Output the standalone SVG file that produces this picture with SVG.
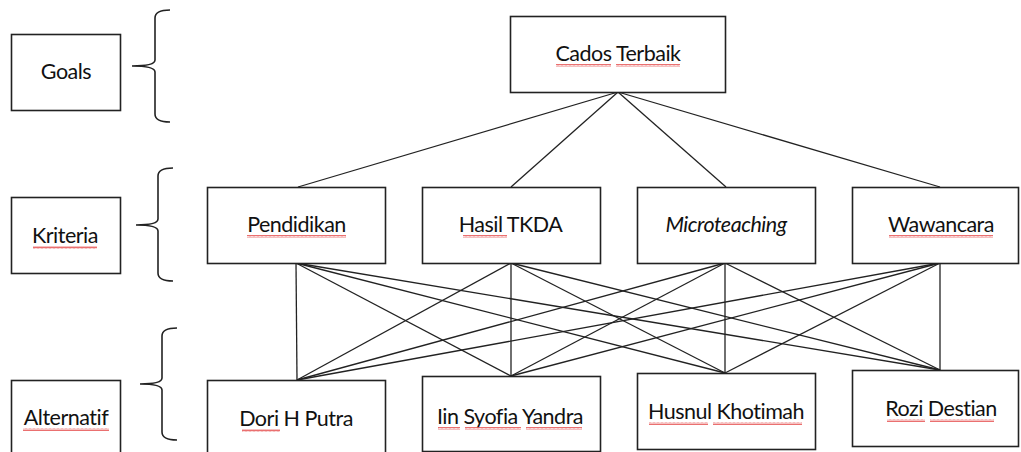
<svg xmlns="http://www.w3.org/2000/svg" width="1021" height="452" viewBox="0 0 1021 452">
<style>
.box{fill:#fff;stroke:#222;stroke-width:1.6}
.lbl{font-family:Lato,"Liberation Sans",sans-serif;font-size:21.5px;letter-spacing:-0.5px;fill:#111;text-anchor:middle;font-variant-ligatures:none}
.it{font-style:italic}
.con line{stroke:#222;stroke-width:1.3}
.brace{fill:none;stroke:#222;stroke-width:1.6}
.sq{fill:url(#wavy)}
</style>
<defs>
<pattern id="wavy" width="4" height="3" patternUnits="userSpaceOnUse">
<path d="M0,2.5 L1,0.5 L2,2.5 L3,0.5 L4,2.5" fill="none" stroke="#e86060" stroke-width="0.9"/>
</pattern>
</defs>
<rect width="1021" height="452" fill="#fff"/>
<g id="connectors" class="con">
<line x1="618" y1="92" x2="298" y2="187"/>
<line x1="618" y1="92" x2="511" y2="187"/>
<line x1="618" y1="92" x2="726" y2="187"/>
<line x1="618" y1="92" x2="940" y2="187"/>
<line x1="296" y1="263" x2="297" y2="380"/>
<line x1="296" y1="263" x2="511" y2="376"/>
<line x1="296" y1="263" x2="725" y2="373"/>
<line x1="296" y1="263" x2="940" y2="370"/>
<line x1="511" y1="263" x2="297" y2="380"/>
<line x1="511" y1="263" x2="511" y2="376"/>
<line x1="511" y1="263" x2="725" y2="373"/>
<line x1="511" y1="263" x2="940" y2="370"/>
<line x1="725" y1="263" x2="297" y2="380"/>
<line x1="725" y1="263" x2="511" y2="376"/>
<line x1="725" y1="263" x2="725" y2="373"/>
<line x1="725" y1="263" x2="940" y2="370"/>
<line x1="940" y1="263" x2="297" y2="380"/>
<line x1="940" y1="263" x2="511" y2="376"/>
<line x1="940" y1="263" x2="725" y2="373"/>
<line x1="940" y1="263" x2="940" y2="370"/>
</g>
<g id="braces">
<path class="brace" d="M170,10 Q155,10 155,18 L155,60 Q155,66 132,66 Q155,66 155,72 L155,114 Q155,122 170,122"/>
<path class="brace" d="M173,168 Q158,168 158,176 L158,219 Q158,225 136,225 Q158,225 158,231 L158,273 Q158,281 173,281"/>
<path class="brace" d="M177,328 Q162,328 162,336 L162,378 Q162,384 140,384 Q162,384 162,390 L162,432 Q162,440 177,440"/>
</g>
<g id="goals">
<rect class="box" x="11.5" y="34.5" width="109" height="76"/>
<text class="lbl" x="66" y="79">Goals</text>
</g>
<g id="kriteria">
<rect class="box" x="11.5" y="197.5" width="109" height="76"/>
<text class="lbl" x="65" y="243">Kriteria</text>
<rect class="sq" x="33" y="246" width="64" height="3"/>
</g>
<g id="alternatif">
<rect class="box" x="11.5" y="380.5" width="109" height="76"/>
<text class="lbl" x="66" y="425">Alternatif</text>
<rect class="sq" x="23" y="428" width="86" height="3"/>
</g>
<g id="cados">
<rect class="box" x="510.5" y="16.5" width="215" height="76"/>
<text class="lbl" x="618" y="61">Cados Terbaik</text>
<rect class="sq" x="556" y="64" width="55" height="3"/>
<rect class="sq" x="616" y="64" width="64" height="3"/>
</g>
<g id="pendidikan">
<rect class="box" x="207.5" y="187.5" width="178" height="76"/>
<text class="lbl" x="296.5" y="232">Pendidikan</text>
<rect class="sq" x="247" y="235" width="99" height="3"/>
</g>
<g id="tkda">
<rect class="box" x="422.5" y="187.5" width="178" height="76"/>
<text class="lbl" x="510.5" y="232">Hasil TKDA</text>
<rect class="sq" x="463" y="235" width="44" height="3"/>
</g>
<g id="microteaching">
<rect class="box" x="637.5" y="187.5" width="178" height="76"/>
<text class="lbl it" x="726" y="232">Microteaching</text>
</g>
<g id="wawancara">
<rect class="box" x="852.5" y="187.5" width="166" height="76"/>
<text class="lbl" x="941" y="232">Wawancara</text>
<rect class="sq" x="889" y="235" width="104" height="3"/>
</g>
<g id="dori">
<rect class="box" x="207.5" y="380.5" width="178" height="76"/>
<text class="lbl" x="296" y="426">Dori H Putra</text>
<rect class="sq" x="242" y="429" width="38" height="3"/>
</g>
<g id="iin">
<rect class="box" x="422.5" y="376.5" width="178" height="75"/>
<text class="lbl" x="510" y="424">Iin Syofia Yandra</text>
<rect class="sq" x="438" y="427" width="22" height="3"/>
<rect class="sq" x="465" y="427" width="56" height="3"/>
<rect class="sq" x="526" y="427" width="56" height="3"/>
</g>
<g id="husnul">
<rect class="box" x="637.5" y="373.5" width="178" height="76"/>
<text class="lbl" x="726" y="419">Husnul Khotimah</text>
<rect class="sq" x="649" y="422" width="59" height="3"/>
<rect class="sq" x="713" y="422" width="89" height="3"/>
</g>
<g id="rozi">
<rect class="box" x="852.5" y="370.5" width="166" height="76"/>
<text class="lbl" x="941" y="416">Rozi Destian</text>
<rect class="sq" x="887" y="419" width="38" height="3"/>
<rect class="sq" x="930" y="419" width="64" height="3"/>
</g>
</svg>
